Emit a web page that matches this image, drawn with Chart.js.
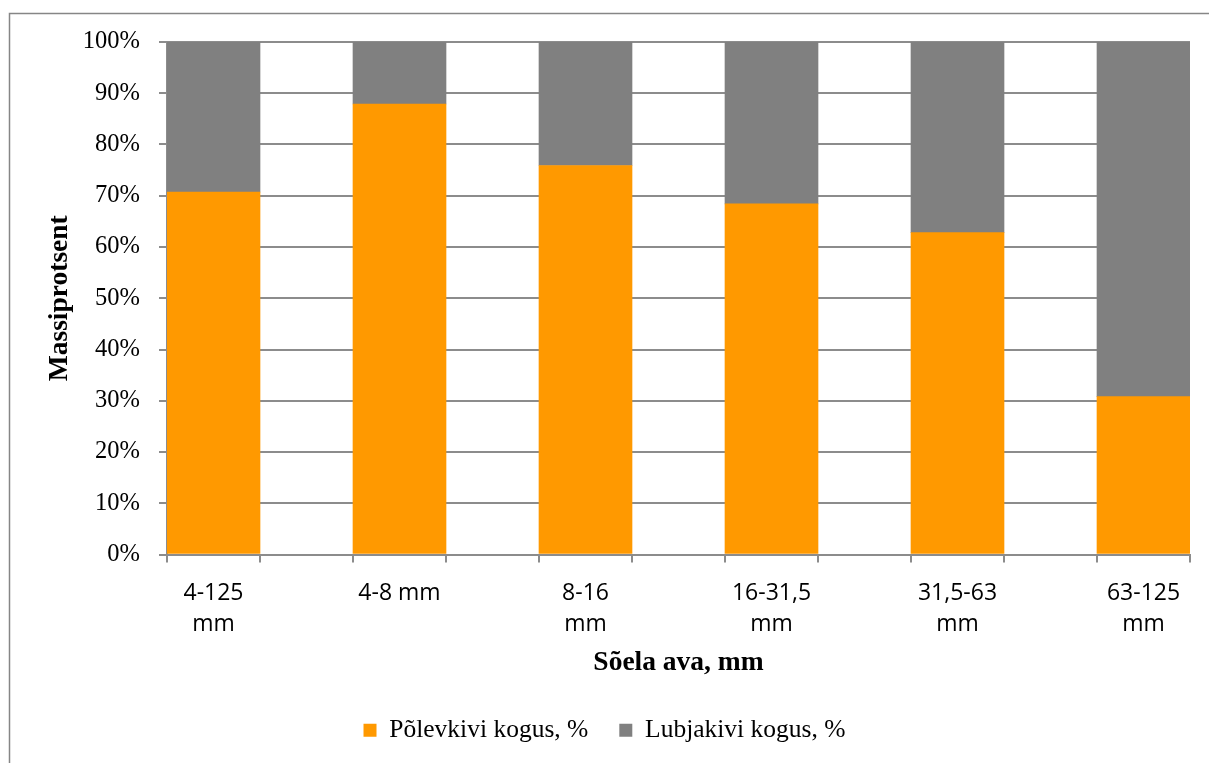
<!DOCTYPE html>
<html>
<head>
<meta charset="utf-8">
<script src="https://cdn.jsdelivr.net/npm/chart.js@4/dist/chart.umd.min.js"></script>
<style>
  html, body { margin: 0; padding: 0; background: #fff; }
  canvas { display: block; }
</style>
</head>
<body>
<canvas id="c" width="1209" height="763"></canvas>
<script>
// Sieve fractions (sõela ava)
const categories = [["4-125", "mm"], "4-8 mm", ["8-16", "mm"], ["16-31,5", "mm"], ["31,5-63", "mm"], ["63-125", "mm"]];
// Oil shale share per fraction, %
const polevkivi = [70.7, 87.9, 75.9, 68.4, 62.8, 30.8];
// Limestone share per fraction, %
const lubjakivi = [29.3, 12.1, 24.1, 31.6, 37.2, 69.2];
// Y axis ticks, %
const yTicks = [0, 10, 20, 30, 40, 50, 60, 70, 80, 90, 100];

// Each fraction is followed by an empty slot, giving the spacing between columns
function spaced(arr, filler) {
  const out = [];
  arr.forEach((v, i) => { out.push(v); if (i < arr.length - 1) out.push(filler); });
  return out;
}

const serif = "'Liberation Serif', 'Times New Roman', serif";
const sans = "'Open Sans', 'Noto Sans', sans-serif";
const gridGray = '#8c8c8c';

const frame = {
  id: 'frame',
  beforeDraw(chart) {
    const ctx = chart.ctx;
    ctx.save();
    ctx.fillStyle = '#ffffff';
    ctx.fillRect(0, 0, chart.width, chart.height);
    ctx.strokeStyle = '#868686';
    ctx.lineWidth = 1.5;
    ctx.strokeRect(9.5, 13.5, 1300, 800);
    ctx.restore();
  }
};

new Chart(document.getElementById('c'), {
  type: 'bar',
  data: {
    labels: spaced(categories, ''),
    datasets: [
      {
        label: 'Põlevkivi kogus, %',
        data: spaced(polevkivi, null),
        backgroundColor: '#FF9900',
        borderWidth: 0
      },
      {
        label: 'Lubjakivi kogus, %',
        data: spaced(lubjakivi, null),
        backgroundColor: '#808080',
        borderWidth: 0
      }
    ]
  },
  options: {
    responsive: false,
    devicePixelRatio: 1,
    animation: false,
    layout: { padding: { left: 19, right: 19, top: 42, bottom: 10 } },
    datasets: { bar: { categoryPercentage: 1.0, barPercentage: 1.0 } },
    plugins: {
      tooltip: { enabled: false },
      legend: {
        position: 'bottom',
        labels: {
          font: { family: serif, size: 25.5 },
          color: '#000',
          boxWidth: 13,
          boxHeight: 13,
          padding: 31
        }
      }
    },
    scales: {
      x: {
        stacked: true,
        afterFit(scale) { scale.height = 132; },
        grid: {
          offset: true,
          drawOnChartArea: false,
          drawTicks: true,
          tickLength: 8,
          color: gridGray,
          lineWidth: 2
        },
        border: { display: true, color: gridGray, width: 2 },
        ticks: {
          autoSkip: false,
          maxRotation: 0,
          padding: 15,
          color: '#000',
          font: { family: sans, size: 23, lineHeight: 1.35 }
        },
        title: {
          display: true,
          text: 'Sõela ava, mm',
          color: '#000',
          font: { family: serif, size: 27.5, weight: 'bold' },
          padding: { top: 0, bottom: 7 }
        }
      },
      y: {
        stacked: true,
        min: 0,
        max: 100,
        afterFit(scale) { scale.width = 148; },
        afterBuildTicks(scale) { scale.ticks = yTicks.map(v => ({ value: v })); },
        grid: {
          color: gridGray,
          lineWidth: 2,
          drawTicks: true,
          tickLength: 8
        },
        border: { display: true, color: gridGray, width: 2 },
        ticks: {
          padding: 19,
          color: '#000',
          font: { family: serif, size: 24.5 },
          callback: v => v + '%'
        },
        title: {
          display: true,
          text: 'Massiprotsent',
          color: '#000',
          font: { family: serif, size: 27.5, weight: 'bold' },
          padding: { top: 24, bottom: 0 }
        }
      }
    }
  },
  plugins: [frame]
});
</script>
</body>
</html>
